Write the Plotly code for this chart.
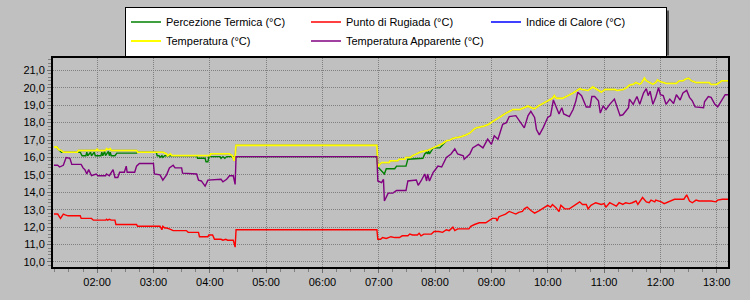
import plotly.graph_objects as go

DAY = "2024-01-01 "

# Temperatura (°C) -- also Indice di Calore, which coincides with it
temp_t = ["01:14","01:17","01:19","01:22","01:24","01:39","01:40","01:59","02:00","02:01",
          "02:09","02:10","02:12","02:14","02:15","02:42","02:43","03:10","03:12","03:14",
          "03:15","03:18","03:20","04:00","04:01","04:21","04:24","04:26","04:27","04:28",
          "06:58","06:59","07:01","07:03","07:11","07:12","07:20","07:22","07:28","07:29",
          "07:34","07:36","07:40","07:44","07:52","07:56","08:01","08:05","08:08","08:12",
          "08:16","08:19","08:28","08:33","08:37","08:41","08:44","08:52","08:57","09:01",
          "09:06","09:10","09:14","09:17","09:23","09:30","09:35","09:39","09:43","09:46",
          "09:50","09:55","09:58","10:02","10:05","10:07","10:09","10:16","10:20","10:24",
          "10:27","10:31","10:34","10:37","10:43","10:48","10:51","10:54","10:57","11:01",
          "11:11","11:14","11:20","11:24","11:27","11:31","11:34","11:38","11:40","11:43",
          "11:45","11:47","11:50","11:52","11:55","11:57","12:00","12:03","12:06","12:17",
          "12:20","12:24","12:27","12:30","12:33","12:38","12:52","12:54","13:00","13:03",
          "13:05","13:12"]
temp_v = [16.6,16.6,16.45,16.4,16.3,16.3,16.4,16.4,16.5,16.4,
          16.4,16.5,16.45,16.5,16.4,16.4,16.3,16.3,16.25,16.2,
          16.1,16.2,16.1,16.1,16.2,16.2,16.1,15.8,16.1,16.7,
          16.7,15.45,15.6,15.7,15.7,15.8,15.8,15.9,15.9,16.0,
          16.0,16.1,16.2,16.3,16.4,16.5,16.6,16.7,16.8,16.95,
          17.0,17.1,17.2,17.3,17.4,17.6,17.7,17.8,17.9,18.05,
          18.2,18.35,18.5,18.6,18.75,18.75,18.85,18.95,18.85,18.8,
          18.95,19.1,19.2,19.3,19.4,19.55,19.4,19.4,19.5,19.6,
          19.7,19.85,19.95,19.9,19.85,20.05,19.95,19.85,19.75,19.9,
          19.9,19.85,19.9,20.0,20.15,20.2,20.3,20.2,20.3,20.55,
          20.4,20.35,20.25,20.2,20.3,20.45,20.35,20.3,20.25,20.25,
          20.4,20.4,20.5,20.55,20.4,20.3,20.3,20.2,20.2,20.3,
          20.4,20.4]

# Percezione Termica (°C) -- visible where it differs from Temperatura
perc_t = ["01:14","01:17","01:19","01:22","01:42","01:44","01:48","01:49","01:50","01:53",
          "01:54","01:57","01:58","02:04","02:05","02:06","02:08","02:09","02:12","02:13",
          "02:14","02:15","02:19","02:21","02:42","02:43","03:03","03:04","03:06","03:07",
          "03:09","03:10","03:12","03:46","03:47","03:55","03:56","03:58","03:59","04:11",
          "04:12","04:14","04:16","04:18","04:27","06:58","06:59","07:06","07:08","07:17",
          "07:19","07:29","07:31","07:47","07:49","07:51","07:52","07:53","07:54","07:56",
          "07:58","08:05","08:08","08:12"]
perc_v = [16.6,16.6,16.45,16.3,16.3,16.1,16.1,16.3,16.1,16.3,
          16.1,16.3,16.1,16.1,16.3,16.1,16.35,16.1,16.35,16.1,
          16.3,16.1,16.1,16.25,16.25,16.3,16.3,16.1,16.1,16.0,
          16.1,16.0,16.1,16.1,15.95,15.95,15.75,15.75,16.05,16.05,
          15.95,16.05,15.95,16.05,16.05,16.05,15.45,15.05,15.35,15.35,
          15.5,15.5,15.9,15.95,16.2,16.3,16.2,16.35,16.2,16.4,
          16.55,16.55,16.75,16.95]

# Punto di Rugiada (°C)
dew_t = ["01:14","01:18","01:21","01:24","01:26","01:29","01:42","01:43","01:54","01:56",
         "02:09","02:10","02:11","02:13","02:15","02:19","02:20","02:42","02:43","03:07",
         "03:09","03:10","03:12","03:14","03:17","03:21","03:35","03:37","03:48","03:49",
         "03:58","03:59","04:03","04:05","04:12","04:14","04:17","04:19","04:25","04:27",
         "04:28","06:58","06:59","07:02","07:04","07:08","07:13","07:17","07:22","07:25",
         "07:31","07:33","07:36","07:41","07:43","07:45","07:48","07:56","07:59","08:04",
         "08:08","08:12","08:15","08:19","08:21","08:24","08:36","08:38","08:42","08:47",
         "08:54","08:58","09:01","09:05","09:06","09:08","09:12","09:15","09:19","09:22",
         "09:26","09:29","09:33","09:35","09:38","09:42","09:46","09:51","09:55","10:00",
         "10:03","10:05","10:09","10:12","10:14","10:18","10:23","10:28","10:34","10:37",
         "10:41","10:43","10:46","10:51","10:57","11:00","11:02","11:06","11:09","11:13",
         "11:16","11:20","11:23","11:27","11:30","11:34","11:36","11:39","11:41","11:45",
         "11:48","11:50","11:54","11:55","12:01","12:04","12:08","12:11","12:15","12:25",
         "12:28","12:31","12:34","12:38","12:41","12:54","12:59","13:01","13:06","13:12"]
dew_v = [12.75,12.75,12.5,12.75,12.7,12.65,12.65,12.5,12.5,12.4,
         12.4,12.45,12.4,12.45,12.4,12.4,12.15,12.15,12.05,12.05,
         11.85,12.05,11.95,11.95,11.9,11.8,11.8,11.7,11.7,11.45,
         11.45,11.55,11.55,11.3,11.3,11.25,11.3,11.25,11.25,10.85,
         11.85,11.85,11.3,11.3,11.4,11.35,11.45,11.4,11.4,11.5,
         11.5,11.6,11.55,11.55,11.65,11.5,11.6,11.6,11.75,11.75,
         11.7,11.85,11.8,12.0,11.8,11.9,11.9,12.05,12.15,12.25,
         12.25,12.4,12.5,12.5,12.35,12.6,12.7,12.75,12.9,12.85,
         12.75,12.85,12.9,13.05,13.15,12.95,12.8,12.95,13.1,13.25,
         13.15,13.3,13.1,12.9,13.25,13.05,13.05,13.25,13.45,13.3,
         13.3,13.05,13.25,13.4,13.3,13.35,13.15,13.4,13.3,13.2,
         13.4,13.3,13.4,13.35,13.4,13.5,13.3,13.5,13.7,13.45,
         13.4,13.55,13.45,13.55,13.45,13.35,13.45,13.5,13.6,13.6,
         13.85,13.5,13.4,13.55,13.5,13.5,13.45,13.55,13.6,13.6]

# Temperatura Apparente (°C)
app_t = ["01:14","01:18","01:20","01:24","01:27","01:31","01:33","01:43","01:45","01:47",
         "01:49","01:51","01:54","01:59","02:01","02:09","02:10","02:13","02:17","02:19",
         "02:22","02:24","02:29","02:31","02:32","02:40","02:42","02:45","03:00","03:01",
         "03:07","03:10","03:14","03:17","03:21","03:23","03:30","03:31","03:46","03:48",
         "03:51","03:55","03:58","04:12","04:14","04:18","04:21","04:25","04:27","04:28",
         "06:58","06:59","07:03","07:05","07:06","07:10","07:15","07:19","07:29","07:31",
         "07:40","07:42","07:45","07:49","07:51","07:52","07:54","07:58","08:01","08:03",
         "08:07","08:12","08:17","08:21","08:24","08:30","08:31","08:37","08:40","08:46",
         "08:51","08:56","09:00","09:03","09:07","09:12","09:16","09:19","09:26","09:32",
         "09:35","09:39","09:42","09:46","09:48","09:51","09:55","10:00","10:03","10:06",
         "10:09","10:12","10:15","10:17","10:23","10:27","10:30","10:32","10:36","10:38",
         "10:41","10:45","10:47","10:50","10:54","10:56","10:59","11:02","11:06","11:11",
         "11:15","11:17","11:20","11:26","11:27","11:31","11:35","11:38","11:42","11:45",
         "11:47","11:49","11:52","11:55","11:58","12:00","12:03","12:06","12:10","12:14",
         "12:17","12:21","12:24","12:28","12:31","12:34","12:37","12:46","12:47","12:51",
         "12:54","12:58","13:01","13:05","13:09","13:12"]
app_v = [15.55,15.55,15.45,15.55,16.0,15.95,15.6,15.6,15.4,15.3,
         15.05,15.3,14.95,15.05,14.95,14.95,15.05,14.95,15.3,14.85,
         14.85,15.15,15.15,15.5,15.15,15.15,15.5,15.65,15.65,15.05,
         15.0,14.7,15.0,15.4,15.55,15.4,15.4,15.1,15.05,14.7,
         14.65,14.35,14.7,14.75,14.6,14.75,14.95,14.95,14.45,16.05,
         16.05,14.65,14.55,14.75,13.5,13.95,13.95,14.1,14.1,14.65,
         14.7,14.4,14.65,15.05,14.65,15.05,14.65,15.15,15.35,15.5,
         15.45,16.0,16.2,16.5,16.2,16.1,15.9,16.2,16.55,16.75,
         16.55,17.05,16.75,17.25,17.05,17.9,18.0,18.35,18.4,17.9,
         17.7,18.4,18.65,18.3,17.6,17.3,17.7,18.3,18.4,19.3,
         18.85,18.5,18.85,18.5,18.35,18.75,19.25,19.75,19.55,19.25,
         18.9,18.9,19.5,19.5,19.25,18.55,18.95,18.75,19.05,19.35,
         18.75,18.4,18.45,18.85,19.35,19.05,19.5,19.05,19.7,19.95,
         19.55,19.8,19.05,19.45,20.0,19.6,19.55,19.05,19.35,19.1,
         19.6,19.3,19.7,19.85,19.45,19.25,18.9,18.85,19.2,19.5,
         19.45,19.05,18.9,19.25,19.6,19.6]

y_ticks = [10, 11, 12, 13, 14, 15, 16, 17, 18, 19, 20, 21]

FONT = "Liberation Sans, Arial, sans-serif"

def ts(lst):
    return [DAY + t for t in lst]

fig = go.Figure()
fig.add_trace(go.Scatter(x=ts(perc_t), y=perc_v, mode="lines", name="Percezione Termica (°C)",
                         line=dict(color="#008000", width=1.4)))
fig.add_trace(go.Scatter(x=ts(dew_t), y=dew_v, mode="lines", name="Punto di Rugiada (°C)",
                         line=dict(color="#FF0000", width=1.4)))
fig.add_trace(go.Scatter(x=ts(temp_t), y=temp_v, mode="lines", name="Indice di Calore (°C)",
                         line=dict(color="#0000FF", width=1.3)))
fig.add_trace(go.Scatter(x=ts(temp_t), y=temp_v, mode="lines", name="Temperatura (°C)",
                         line=dict(color="#FFFF00", width=1.8)))
fig.add_trace(go.Scatter(x=ts(app_t), y=app_v, mode="lines", name="Temperatura Apparente (°C)",
                         line=dict(color="#800080", width=1.4)))

L, R, T, B = 53, 22, 58, 33
W, H = 750, 300
PW, PH = W - L - R, H - T - B

def px_x(p):
    return (p - L) / PW

def px_y(p):
    return (H - B - p) / PH

LEG_L, LEG_T = 125, 6.5
LEG_W, LEG_H = 540, 45

# legend drop shadow
fig.add_shape(type="rect", xref="paper", yref="paper",
              x0=px_x(LEG_L + 4), x1=px_x(LEG_L + LEG_W + 4),
              y0=px_y(LEG_T + LEG_H + 4), y1=px_y(LEG_T + 4),
              fillcolor="rgba(45,45,45,0.75)", line=dict(width=0), layer="above")

fig.update_layout(
    width=W, height=H,
    margin=dict(l=L, r=R, t=T, b=B, pad=0, autoexpand=False),
    paper_bgcolor="#C0C0C0", plot_bgcolor="#C0C0C0",
    font=dict(family=FONT, size=11, color="#000000"),
    separators=",.",
    showlegend=True,
    legend=dict(orientation="h", entrywidth=135, entrywidthmode="pixels",
                x=px_x(LEG_L), xanchor="left", y=px_y(LEG_T), yanchor="top",
                bgcolor="#FFFFFF", bordercolor="#000000", borderwidth=1,
                font=dict(family=FONT, size=11, color="#000000"),
                traceorder="normal"),
)

GRID_DASH = "1px,1px"

fig.update_xaxes(
    type="date",
    range=[DAY + "01:13", DAY + "13:12"],
    tickformat="%H:%M", dtick=3600000, tick0=DAY + "00:00",
    showgrid=True, gridcolor="#808080", griddash=GRID_DASH, gridwidth=1,
    showline=True, linecolor="#000000", linewidth=2, mirror=True,
    ticks="outside", ticklen=4, tickcolor="#707070", tickwidth=1,
    minor=dict(dtick=900000, ticks="outside", ticklen=3, tickcolor="#808080", showgrid=False),
    zeroline=False,
    tickfont=dict(family=FONT, size=11, color="#000000"),
)
fig.update_yaxes(
    range=[9.71, 21.71],
    tickvals=y_ticks, tickformat=".1f",
    showgrid=True, gridcolor="#808080", griddash=GRID_DASH, gridwidth=1,
    showline=True, linecolor="#000000", linewidth=2, mirror=True,
    ticks="outside", ticklen=4, tickcolor="#707070", tickwidth=1,
    minor=dict(dtick=0.2, tick0=0, ticks="outside", ticklen=3, tickcolor="#808080", showgrid=False),
    zeroline=False,
    tickfont=dict(family=FONT, size=11, color="#000000"),
)

fig.write_html("out.html")
